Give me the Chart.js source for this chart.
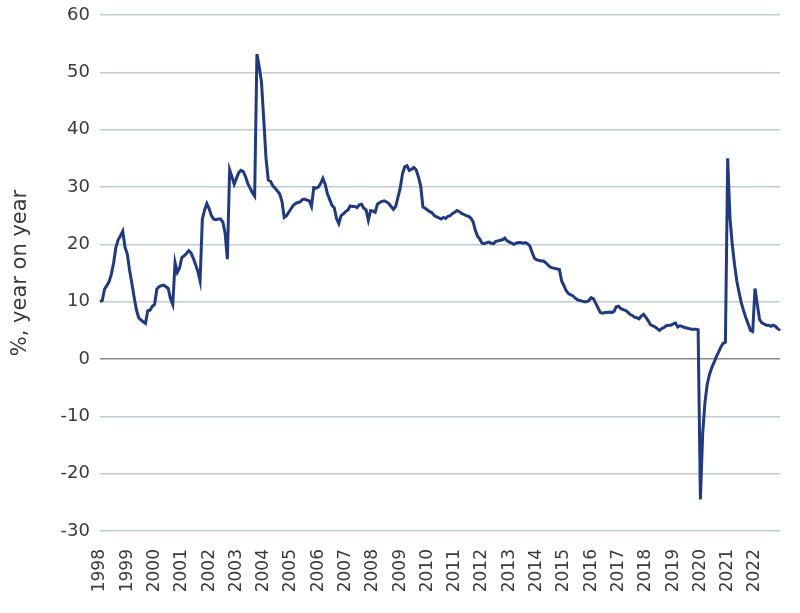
<!DOCTYPE html>
<html>
<head>
<meta charset="utf-8">
<script src="https://cdn.jsdelivr.net/npm/chart.js@4"></script>
<style>
  html, body { margin: 0; padding: 0; background: #ffffff; }
  #wrap { width: 800px; height: 613px; position: relative; }
</style>
</head>
<body>
<div id="wrap"><canvas id="c"></canvas></div>
<script>
// ---- data (monthly, Jan 1998 .. Dec 2022) ----
const years = [1998,1999,2000,2001,2002,2003,2004,2005,2006,2007,2008,2009,2010,2011,2012,2013,2014,2015,2016,2017,2018,2019,2020,2021,2022];
const yoy = [
  // 1998
  10.0, 10.2, 12.2, 12.8, 13.5, 14.8, 16.8, 19.5, 20.8, 21.5, 22.3, 19.5,
  // 1999
  18.3, 15.5, 13.2, 10.8, 8.6, 7.2, 6.8, 6.5, 6.2, 8.4, 8.5, 9.2,
  // 2000
  9.5, 12.2, 12.6, 12.8, 12.9, 12.6, 12.3, 10.5, 9.5, 16.8, 15.1, 15.9,
  // 2001
  17.7, 18.0, 18.4, 18.9, 18.5, 17.6, 16.5, 15.3, 13.6, 24.4, 26.0, 27.1,
  // 2002
  26.2, 25.0, 24.4, 24.3, 24.4, 24.4, 23.9, 22.0, 17.4, 33.0, 31.8, 30.5,
  // 2003
  31.5, 32.5, 32.9, 32.7, 31.8, 30.6, 29.8, 29.0, 28.4, 53.2, 51.0, 48.3,
  // 2004
  41.8, 35.0, 31.2, 31.0, 30.2, 29.8, 29.3, 28.8, 27.5, 24.7, 25.0, 25.6,
  // 2005
  26.2, 26.8, 27.1, 27.3, 27.4, 27.8, 27.9, 27.7, 27.6, 26.6, 29.9, 29.8,
  // 2006
  30.0, 30.6, 31.5, 30.5, 28.8, 27.8, 26.8, 26.4, 24.5, 23.6, 25.0, 25.3,
  // 2007
  25.7, 26.0, 26.7, 26.6, 26.6, 26.4, 26.9, 27.0, 26.3, 26.0, 24.2, 25.9,
  // 2008
  25.8, 25.6, 27.0, 27.3, 27.5, 27.6, 27.4, 27.1, 26.6, 26.1, 26.6, 28.2,
  // 2009
  29.8, 32.3, 33.5, 33.7, 32.9, 33.1, 33.4, 33.0, 31.8, 30.2, 26.5, 26.3,
  // 2010
  26.0, 25.7, 25.5, 25.0, 24.8, 24.6, 24.4, 24.7, 24.5, 24.9, 25.0, 25.4,
  // 2011
  25.6, 25.9, 25.7, 25.4, 25.2, 25.0, 24.9, 24.6, 24.0, 22.5, 21.4, 20.9,
  // 2012
  20.2, 20.1, 20.3, 20.4, 20.2, 20.1, 20.5, 20.6, 20.7, 20.8, 21.1, 20.6,
  // 2013
  20.4, 20.2, 20.0, 20.2, 20.3, 20.3, 20.2, 20.3, 20.1, 19.7, 18.6, 17.6,
  // 2014
  17.3, 17.2, 17.1, 17.1, 16.8, 16.4, 16.0, 15.9, 15.8, 15.7, 15.6, 13.6,
  // 2015
  12.8, 11.9, 11.4, 11.2, 11.0, 10.6, 10.3, 10.2, 10.1, 10.0, 10.0, 10.2,
  // 2016
  10.7, 10.5, 9.7, 8.9, 8.1, 8.0, 8.1, 8.1, 8.2, 8.1, 8.3, 9.1,
  // 2017
  9.2, 8.8, 8.6, 8.5, 8.2, 7.8, 7.6, 7.3, 7.2, 7.0, 7.5, 7.8,
  // 2018
  7.3, 6.7, 6.0, 5.8, 5.6, 5.3, 5.0, 5.3, 5.5, 5.8, 5.9, 5.9,
  // 2019
  6.1, 6.3, 5.6, 5.8, 5.7, 5.5, 5.4, 5.3, 5.2, 5.2, 5.2, 5.1,
  // 2020
  -24.5, -13.0, -7.6, -4.4, -2.7, -1.5, -0.6, 0.4, 1.2, 2.1, 2.7, 2.9,
  // 2021
  35.0, 24.6, 20.0, 16.5, 13.6, 11.6, 9.8, 8.4, 7.2, 6.1, 5.0, 4.8,
  // 2022
  12.3, 9.6, 6.9, 6.3, 6.1, 5.9, 5.9, 5.7, 5.9, 5.7, 5.3, 5.0
];
const yTicks = [-30, -20, -10, 0, 10, 20, 30, 40, 50, 60];
const yTitle = '%, year on year';

// category labels: one per month
const months = [];
years.forEach(y => { for (let m = 1; m <= 12; m++) months.push(y + '-' + String(m).padStart(2, '0')); });

const FONT = "'DejaVu Sans', sans-serif";
const TEXT = '#3a3a3a';

new Chart(document.getElementById('c'), {
  type: 'line',
  data: {
    labels: months,
    datasets: [{
      data: yoy,
      borderColor: '#1f3a80',
      borderWidth: 3,
      pointRadius: 0,
      tension: 0,
      fill: false
    }]
  },
  options: {
    responsive: true,
    maintainAspectRatio: false,
    animation: false,
    devicePixelRatio: 1,
    layout: { padding: { left: 0, right: 20, top: 15, bottom: 0 } },
    plugins: { legend: { display: false }, tooltip: { enabled: false } },
    scales: {
      x: {
        type: 'category',
        offset: false,
        grid: { display: false },
        border: { display: false },
        ticks: {
          autoSkip: false,
          minRotation: 90,
          maxRotation: 90,
          padding: 10,
          color: TEXT,
          font: { family: FONT, size: 17 },
          callback: function (val, idx) {
            const lab = this.getLabelForValue(val);
            return lab.endsWith('-01') ? lab.slice(0, 4) : null;
          }
        },
        afterFit: s => { s.height = 82; s.paddingLeft = 0; s.paddingRight = 0; }
      },
      y: {
        min: -30,
        max: 60,
        afterBuildTicks: s => { s.ticks = yTicks.map(v => ({ value: v })); },
        grid: {
          drawTicks: false,
          lineWidth: 1.5,
          color: c => (c.tick && c.tick.value === 0) ? '#8a8a8a' : '#bfccd4'
        },
        border: { display: false },
        ticks: {
          padding: 10,
          color: TEXT,
          font: { family: FONT, size: 18, lineHeight: 1.0 }
        },
        title: {
          display: true,
          text: yTitle,
          color: TEXT,
          font: { family: FONT, size: 21 },
          padding: { top: 8, bottom: 6 }
        },
        afterFit: s => { s.width = 100; s.paddingTop = 0; s.paddingBottom = 0; }
      }
    }
  }
});
</script>
</body>
</html>
